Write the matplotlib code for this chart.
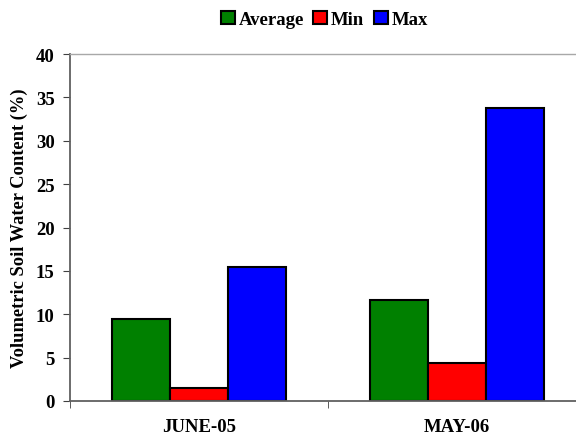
import matplotlib
matplotlib.use("Agg")
from matplotlib import pyplot as plt
import numpy as np

categories = ["JUNE-05", "MAY-06"]
series_names = ["Average", "Min", "Max"]
average = [9.45, 11.65]
minimum = [1.45, 4.4]
maximum = [15.45, 33.8]
colors = ["#008000", "#ff0000", "#0000ff"]

plt.rcParams["font.family"] = ["Liberation Serif", "DejaVu Serif"]
plt.rcParams["font.weight"] = "bold"

fig = plt.figure(figsize=(5.76, 4.35), dpi=100)
ax = fig.add_axes([70 / 576, 33 / 435, 516 / 576, 347 / 435])

x = np.arange(len(categories))
w = 0.225
for i, (vals, name, c) in enumerate(zip([average, minimum, maximum], series_names, colors)):
    ax.bar(x + (i - 1) * w, vals, w, color=c, edgecolor="black", linewidth=1.5, label=name)

ax.set_xlim(-0.5, 1.5)
ax.set_ylim(0, 40)
ax.set_yticks(range(0, 41, 5))
ax.set_xticks(x)
ax.set_xticklabels(categories, fontsize=13.5, fontweight="bold")
ax.set_xticks([-0.5, 0.5, 1.5], minor=True)
ax.tick_params(axis="x", which="major", length=0, pad=12.5)
ax.tick_params(axis="x", which="minor", length=5, color="#404040")
ax.tick_params(axis="y", length=5, color="#404040", labelsize=13.5, pad=6)
for lab in ax.get_yticklabels():
    lab.set_fontweight("bold")
ax.set_ylabel("Volumetric Soil Water Content (%)", fontsize=13.3, fontweight="bold", labelpad=6)

ax.spines["right"].set_visible(False)
ax.spines["top"].set_color("#a8a8a8")
ax.spines["top"].set_linewidth(1.0)
for s in ["left", "bottom"]:
    ax.spines[s].set_color("#606060")
    ax.spines[s].set_linewidth(1.3)

fig.legend(loc="upper center", bbox_to_anchor=(0.563, 1.012), ncol=3, frameon=False,
           handlelength=0.75, handleheight=0.75, handletextpad=0.2, columnspacing=0.5,
           prop={"weight": "bold", "size": 13.5})

fig.savefig("out.png", dpi=100)
